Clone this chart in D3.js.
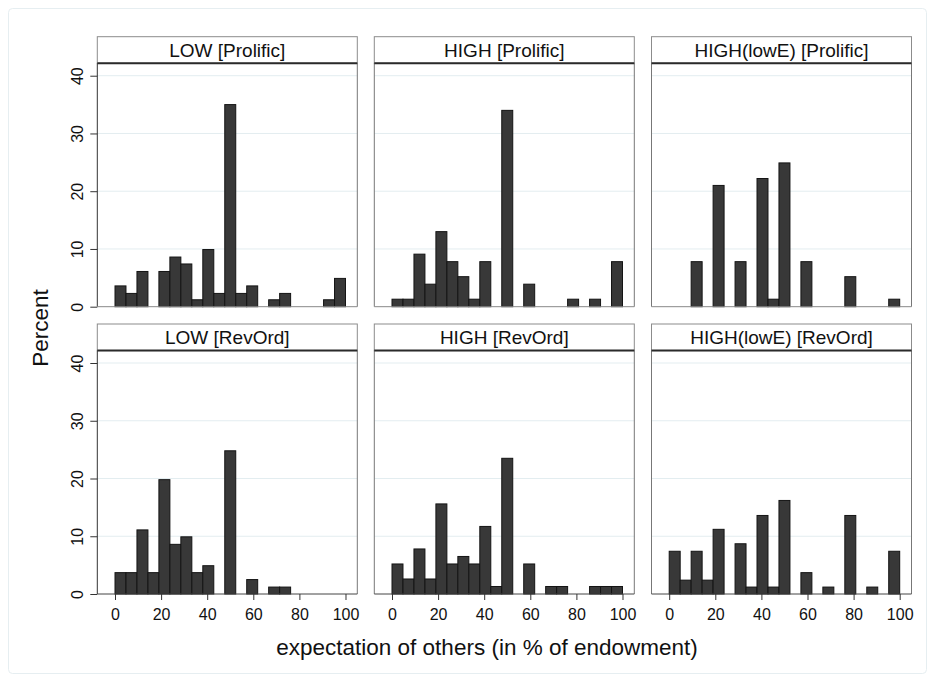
<!DOCTYPE html>
<html>
<head>
<meta charset="utf-8">
<script src="https://cdn.jsdelivr.net/npm/d3@7"></script>
<style>
  body { margin: 0; background: #fff; }
  svg { display: block; font-family: "Liberation Sans", Arial, Helvetica, sans-serif; }
</style>
</head>
<body>
<svg id="chart" width="935" height="682"></svg>
<script>
// panel titles, row by row
var titles = ["LOW [Prolific]", "HIGH [Prolific]", "HIGH(lowE) [Prolific]",
              "LOW [RevOrd]", "HIGH [RevOrd]", "HIGH(lowE) [RevOrd]"];

// percent per bin (21 bins of width 100/21 from 0 to 100)
var lowProlific      = [3.6, 2.3, 6.1, 0, 6.1, 8.6, 7.4, 1.2, 9.9, 2.3, 35.0, 2.3, 3.6, 0, 1.2, 2.3, 0, 0, 0, 1.2, 4.9];
var highProlific     = [1.3, 1.3, 9.1, 3.9, 13.0, 7.8, 5.2, 1.3, 7.8, 0, 34.0, 0, 3.9, 0, 0, 0, 1.3, 0, 1.3, 0, 7.8];
var highLowEProlific = [0, 0, 7.8, 0, 21.0, 0, 7.8, 0, 22.2, 1.3, 24.9, 0, 7.8, 0, 0, 0, 5.2, 0, 0, 0, 1.3];
var lowRevOrd        = [3.7, 3.7, 11.1, 3.7, 19.8, 8.6, 9.9, 3.7, 4.9, 0, 24.8, 0, 2.5, 0, 1.2, 1.2, 0, 0, 0, 0, 0];
var highRevOrd       = [5.2, 2.6, 7.8, 2.6, 15.6, 5.2, 6.5, 5.2, 11.7, 1.3, 23.5, 0, 5.2, 0, 1.3, 1.3, 0, 0, 1.3, 1.3, 1.3];
var highLowERevOrd   = [7.4, 2.4, 7.4, 2.4, 11.2, 0, 8.7, 1.2, 13.6, 1.2, 16.2, 0, 3.7, 0, 1.2, 0, 13.6, 0, 1.2, 0, 7.4];

var series = [lowProlific, highProlific, highLowEProlific, lowRevOrd, highRevOrd, highLowERevOrd];

var yTicks = [0, 10, 20, 30, 40];
var xTicks = [0, 20, 40, 60, 80, 100];
var nBins = 21;

var svg = d3.select("#chart");

// outer frame
svg.append("rect")
  .attr("x", 8.5).attr("y", 8.5)
  .attr("width", 918).attr("height", 665)
  .attr("rx", 4)
  .attr("fill", "#fff")
  .attr("stroke", "#e6eef1");

var colX = [97.3, 374.3, 651.5],
    rowY = [36.7, 324],
    panelW = 260,
    headH = 26.6,
    plotH = 243.4;

var x = d3.scaleLinear().domain([-7.68, 105.12]).range([0, panelW]);
var y = d3.scaleLinear().domain([0, 42.15]).range([plotH, 0]);
var bw = 100 / nBins;

series.forEach(function(vals, i) {
  var col = i % 3, row = Math.floor(i / 3);
  var g = svg.append("g")
    .attr("transform", "translate(" + colX[col] + "," + rowY[row] + ")");

  // header strip
  g.append("rect")
    .attr("x", 0).attr("y", 0)
    .attr("width", panelW).attr("height", headH)
    .attr("fill", "#fff")
    .attr("stroke", "#8c8c8c");
  g.append("text")
    .attr("x", panelW / 2).attr("y", 20)
    .attr("text-anchor", "middle")
    .style("font-size", "19px")
    .attr("fill", "#111")
    .text(titles[i]);

  var p = g.append("g").attr("transform", "translate(0," + headH + ")");

  // grid
  p.selectAll("line.grid")
    .data(yTicks.filter(function(d) { return d > 0; }))
    .enter().append("line")
    .attr("x1", 0).attr("x2", panelW)
    .attr("y1", function(d) { return y(d); })
    .attr("y2", function(d) { return y(d); })
    .attr("stroke", "#e3edf0")
    .attr("stroke-width", 1);

  // bars
  var bins = vals.map(function(v, k) { return { v: v, x0: k * bw, x1: (k + 1) * bw }; })
    .filter(function(d) { return d.v > 0; });
  p.selectAll("rect.bar")
    .data(bins)
    .enter().append("rect")
    .attr("x", function(d) { return x(d.x0); })
    .attr("width", function(d) { return x(d.x1) - x(d.x0); })
    .attr("y", function(d) { return y(d.v); })
    .attr("height", function(d) { return y(0) - y(d.v); })
    .attr("fill", "#383838")
    .attr("stroke", "#141414")
    .attr("stroke-width", 1);

  // panel borders
  p.append("line").attr("x1", panelW).attr("x2", panelW).attr("y1", 0).attr("y2", plotH)
    .attr("stroke", "#777");
  p.append("line").attr("x1", 0).attr("x2", 0).attr("y1", 0).attr("y2", plotH)
    .attr("stroke", col === 0 ? "#333" : "#777");
  p.append("line").attr("x1", 0).attr("x2", panelW).attr("y1", plotH).attr("y2", plotH)
    .attr("stroke", row === 1 ? "#444" : "#888");
  // thick line under header
  g.append("line").attr("x1", 0).attr("x2", panelW).attr("y1", headH).attr("y2", headH)
    .attr("stroke", "#2a2a2a").attr("stroke-width", 2);

  if (col === 0) {
    var ya = p.append("g").call(d3.axisLeft(y).tickValues(yTicks).tickSize(7));
    ya.select(".domain").remove();
    ya.selectAll("line").attr("stroke", "#333");
    ya.selectAll("text")
      .attr("x", null).attr("dy", null)
      .attr("transform", "translate(-20,0) rotate(-90)")
      .attr("text-anchor", "middle")
      .attr("dominant-baseline", "central")
      .attr("fill", "#111")
      .style("font-size", "16px")
      .style("font-family", "'Liberation Sans', Arial, sans-serif");
  }
  if (row === 1) {
    var xa = p.append("g").attr("transform", "translate(0," + plotH + ")")
      .call(d3.axisBottom(x).tickValues(xTicks).tickSize(6).tickPadding(8.5));
    xa.select(".domain").remove();
    xa.selectAll("line").attr("stroke", "#333");
    xa.selectAll("text")
      .attr("fill", "#111")
      .style("font-size", "16px")
      .style("font-family", "'Liberation Sans', Arial, sans-serif");
  }
});

// axis titles
svg.append("text")
  .attr("x", 487).attr("y", 655)
  .attr("text-anchor", "middle")
  .style("font-size", "22.5px")
  .attr("fill", "#111")
  .text("expectation of others (in % of endowment)");

svg.append("text")
  .attr("transform", "translate(40,328) rotate(-90)")
  .attr("text-anchor", "middle")
  .attr("dominant-baseline", "central")
  .style("font-size", "22.5px")
  .attr("fill", "#111")
  .text("Percent");
</script>
</body>
</html>
